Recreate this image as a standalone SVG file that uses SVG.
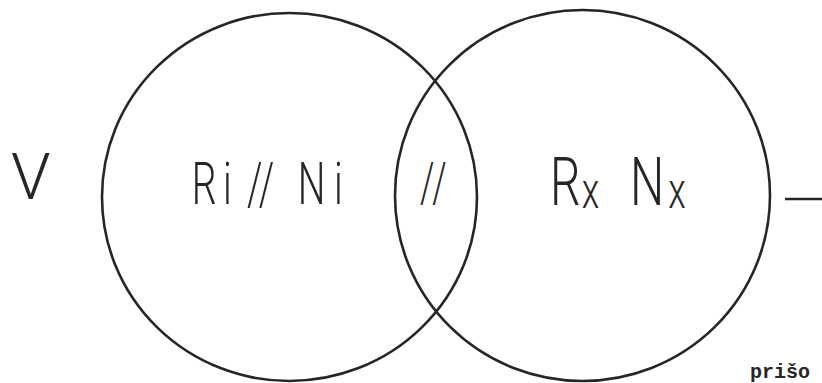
<svg xmlns="http://www.w3.org/2000/svg" width="822" height="383" viewBox="0 0 822 383">
<style>
.ring{fill:none;stroke:#262626;stroke-width:2.6}
.lbl{font-family:Roboto,"Liberation Sans",sans-serif;font-weight:300;fill:#262626}
.line{stroke:#262626;stroke-width:2.4}
</style>
<rect width="822" height="383" fill="#ffffff"/>
<g id="left-set">
<ellipse class="ring" cx="289.5" cy="197" rx="187.5" ry="184"/>
<text class="lbl" font-size="60" transform="scale(0.65 1)" x="295 343 370 380 398 440 458 514" y="204">Ri // Ni</text>
</g>
<g id="intersection">
<text class="lbl" font-size="56" transform="scale(0.65 1)" x="646 665" y="202">//</text>
</g>
<g id="right-set">
<ellipse class="ring" cx="582.5" cy="195.5" rx="187.5" ry="185.5"/>
<text class="lbl" font-size="67" transform="scale(0.72 1)" y="205"><tspan x="764">R</tspan><tspan x="808" font-size="50" dy="3">x</tspan><tspan x="875" dy="-3">N</tspan><tspan x="928" font-size="50" dy="3">x</tspan></text>
</g>
<g id="universe-label">
<text font-family="Roboto,'Liberation Sans',sans-serif" font-weight="300" font-size="64" fill="#262626" x="11" y="199">V</text>
</g>
<g id="connectors">
<line class="line" x1="785" y1="199" x2="822" y2="199"/>
</g>
<g id="caption">
<text font-family="'Liberation Mono',monospace" font-weight="bold" font-size="20" fill="#262626" x="750" y="378">prišo</text>
</g>
</svg>
